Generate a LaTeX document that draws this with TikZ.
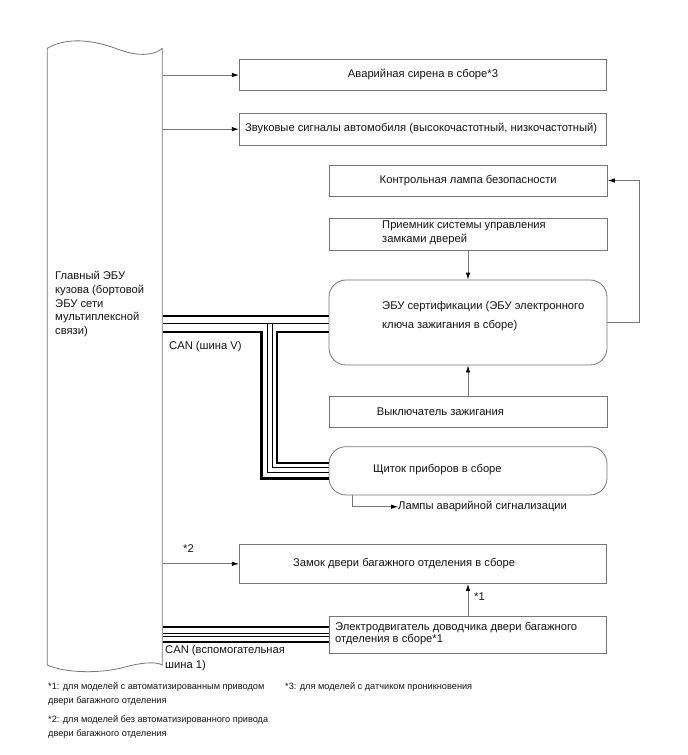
\documentclass[tikz,border=0pt]{standalone}
\usepackage{fontspec}
\setmainfont{Liberation Sans}
\usetikzlibrary{arrows.meta}
\definecolor{linegray}{RGB}{118,118,118}
\definecolor{txt}{RGB}{20,20,20}
\begin{document}
\begin{tikzpicture}[x=1pt,y=-1pt,
  every node/.style={font=\fontsize{11.2}{13}\selectfont, text=txt},
  box/.style={draw=linegray, line width=0.8pt, rectangle, inner sep=0pt},
  rbox/.style={box, rounded corners=17pt},
  lbl/.style={inner sep=0pt, anchor=west, align=left},
  arr/.style={draw=linegray, line width=0.8pt, -{Latex[length=7pt,width=4.5pt,black]}},
  canthick/.style={draw=black, line width=2.4pt, line join=miter},
  canthin/.style={draw=black, line width=0.9pt, line join=miter}]
\useasboundingbox (0,0) rectangle (688,755);

% main body ECU (wavy bar)
\node[inner sep=0pt, minimum width=115pt, minimum height=618pt] (bar) at (104.8,357) {};
\draw[linegray, line width=0.8pt]
  (162.3,48.3) -- (162.3,665)
  .. controls (155,661) and (140,663) .. (125,667)
  .. controls (100,674) and (65,673) .. (47.3,665)
  -- (47.3,48.3)
  .. controls (70,35) and (100,42) .. (120,50)
  .. controls (140,57) and (155,55) .. (162.3,48.3);
\node[lbl, font=\fontsize{11.2}{13.8}\selectfont] (bartxt) at (55,304)
  {Главный ЭБУ\\кузова (бортовой\\ЭБУ сети\\мультиплексной\\связи)};

% boxes
\node[box, minimum width=367.4pt, minimum height=31.4pt] (s1) at (423,75) {Аварийная сирена в сборе*3};
\node[box, minimum width=367.4pt, minimum height=31.7pt] (s2) at (423,129.2) {};
\node[lbl] (s2t) at (245,129) {Звуковые сигналы автомобиля (высокочастотный, низкочастотный)};
\node[box, minimum width=278.3pt, minimum height=31pt] (lamp) at (468.2,180.5) {Контрольная лампа безопасности};
\node[box, minimum width=278pt, minimum height=31.7pt] (recv) at (468,234.2) {};
\node[lbl, font=\fontsize{11.2}{14.3}\selectfont] (recvt) at (382,233) {Приемник системы управления\\замками дверей};
\node[rbox, minimum width=278pt, minimum height=85pt] (ecu) at (468,322.5) {};
\node[lbl, font=\fontsize{11.2}{18.3}\selectfont] (ecut) at (382,316) {ЭБУ сертификации (ЭБУ электронного\\ключа зажигания в сборе)};
\node[box, minimum width=278pt, minimum height=31.7pt] (ign) at (468,411.8) {};
\node[lbl] (ignt) at (376.7,411.7) {Выключатель зажигания};
\node[rbox, minimum width=278pt, minimum height=48.3pt] (cluster) at (468,470.8) {};
\node[lbl] (clustert) at (373,469.3) {Щиток приборов в сборе};
\node[lbl] (hazard) at (398,506.7) {Лампы аварийной сигнализации};
\node[box, minimum width=367.4pt, minimum height=39.5pt] (lock) at (423,563.8) {};
\node[lbl] (lockt) at (293,564) {Замок двери багажного отделения в сборе};
\node[box, minimum width=277.4pt, minimum height=37.3pt] (motor) at (468,634.7) {};
\node[lbl, font=\fontsize{11.2}{11.9}\selectfont] (motort) at (335,633.5) {Электродвигатель доводчика двери багажного\\отделения в сборе*1};

% small labels
\node[lbl] (n1) at (474,596.7) {*1};
\node[lbl] (n2) at (183,549) {*2};
\node[lbl] (canv) at (169,346.7) {CAN (шина V)};
\node[lbl, font=\fontsize{11.2}{14.7}\selectfont] (cana) at (165,658.3) {CAN (вспомогательная\\шина 1)};

% footnotes
\node[lbl, font=\fontsize{9.2}{14.3}\selectfont] (fn1) at (48,694) {*1: для моделей с автоматизированным приводом\\двери багажного отделения};
\node[lbl, font=\fontsize{9.2}{14.3}\selectfont] (fn2) at (48,727) {*2: для моделей без автоматизированного привода\\двери багажного отделения};
\node[lbl, font=\fontsize{9.2}{14.3}\selectfont] (fn3) at (285,686.7) {*3: для моделей с датчиком проникновения};

% arrows
\draw[arr] (bar.east |- s1.west) -- (s1.west);
\draw[arr] (bar.east |- s2.west) -- (s2.west);
\draw[arr] (bar.east |- lock.west) -- (lock.west);
\draw[arr] (recv.south) -- (ecu.north);
\draw[arr] (ign.north) -- (ecu.south);
\draw[arr] (ecu.east) -- ++(32,0) |- (lamp.east);
\draw[arr] (motor.north) -- (motor.north |- lock.south);
\draw[arr] ([xshift=24pt]cluster.south west) |- (hazard.west);

% CAN V bus
\draw[canthick] (bar.east |- 0,316) -- (ecu.west |- 0,316);
\draw[canthin] (bar.east |- 0,323) -- (ecu.west |- 0,323);
\draw[canthick] (bar.east |- 0,331.7) -- (261.5,331.7) -- (261.5,478.5) -- (cluster.west |- 0,478.5);
\draw[canthin] (267,323) -- (267,472) -- (cluster.west |- 0,472);
\draw[canthin] (272,323) -- (272,467.5) -- (cluster.west |- 0,467.5);
\draw[canthick] (ecu.west |- 0,331.7) -- (277,331.7) -- (277,463) -- (cluster.west |- 0,463);

% CAN aux bus
\draw[canthick] (bar.east |- 0,627) -- (motor.west |- 0,627);
\draw[canthin] (bar.east |- 0,633.5) -- (motor.west |- 0,633.5);
\draw[canthin] (bar.east |- 0,636.8) -- (motor.west |- 0,636.8);
\draw[canthick] (bar.east |- 0,641.8) -- (motor.west |- 0,641.8);
\end{tikzpicture}
\end{document}
